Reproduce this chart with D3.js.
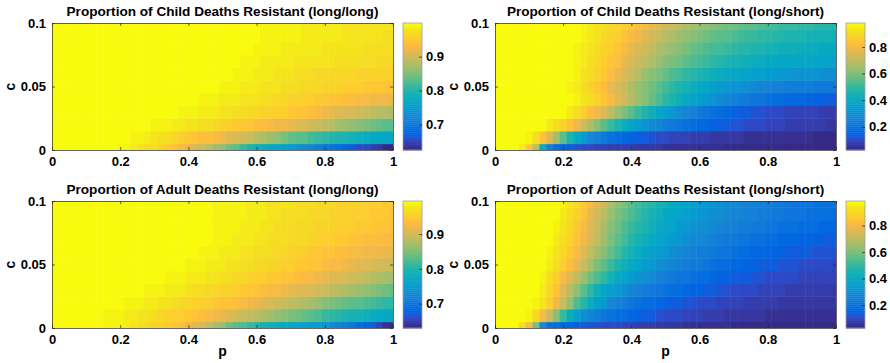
<!DOCTYPE html>
<html lang="en">
<head>
<meta charset="utf-8">
<title>Proportion of deaths resistant</title>
<script src="https://cdn.jsdelivr.net/npm/d3@7"></script>
<style>
  body { margin: 0; background: #fff; }
  svg text { font-family: "Liberation Sans", Arial, Helvetica, sans-serif; font-weight: bold; fill: #000; }
  .axis path, .axis line { stroke: #262626; stroke-width: 0.7; }
  .cbar .axis path { stroke: none; }
</style>
</head>
<body>
<div id="chart"></div>
<script>
// sweep grid: p along x, c along y
var pGrid = [0, 0.02, 0.04, 0.06, 0.08, 0.1, 0.12, 0.14, 0.16, 0.18, 0.2, 0.22, 0.24, 0.26, 0.28, 0.3, 0.32, 0.34, 0.36, 0.38, 0.4,
             0.42, 0.44, 0.46, 0.48, 0.5, 0.52, 0.54, 0.56, 0.58, 0.6, 0.62, 0.64, 0.66, 0.68, 0.7, 0.72, 0.74, 0.76, 0.78, 0.8,
             0.82, 0.84, 0.86, 0.88, 0.9, 0.92, 0.94, 0.96, 0.98, 1];
var cGrid = [0, 0.01, 0.02, 0.03, 0.04, 0.05, 0.06, 0.07, 0.08, 0.09, 0.1];

var pTicks = [0, 0.2, 0.4, 0.6, 0.8, 1];
var cTicks = [0, 0.05, 0.1];
var colorTicksLongLong = [0.7, 0.8, 0.9];
var colorTicksLongShort = [0.2, 0.4, 0.6, 0.8];

// values in percent, one row per c (c = 0 first), one entry per p
var childLongLong = [
  [99.9,99.9,99.9,99.9,99.9,99.9,99.9,99.9,99.9,99.6,99.3,99,98.5,98,97.5,97,96,95,94.5,93,92,91,89.5,88.5,87,86,84.5,83,81.5,80,78.5,78,77,76.5,75.5,75,74,73,72,71,70,69.5,68.5,68,67,66,65.5,64.5,64,63,62.5],
  [99.9,99.9,99.9,99.9,99.9,99.9,99.9,99.9,99.9,99.9,99.7,99.5,99.2,99,98.5,98,97.5,97,96.5,95.5,95,94.5,94,93.5,93,92.5,91.5,91,90,89.5,88.5,88,87,86,85,84,83.5,83,82,81.5,81,80.5,80,79.5,79,78.5,78,77.5,77,77,76.5],
  [99.9,99.9,99.9,99.9,99.9,99.9,99.9,99.9,99.9,99.9,99.9,99.9,99.9,99.7,99.5,99.3,99,98.8,98.5,98.2,98,97.6,97.3,97,96.5,96,95.6,95.2,94.8,94.4,94,93.6,93.2,92.8,92.4,92,91.4,90.8,90.2,89.6,89,88.3,87.6,86.9,86.2,85.5,84.9,84.3,83.8,83.4,83],
  [99.9,99.9,99.9,99.9,99.9,99.9,99.9,99.9,99.9,99.9,99.9,99.9,99.9,99.9,99.9,99.9,99.9,99.7,99.5,99.3,99.1,98.9,98.7,98.5,98.2,98,97.7,97.4,97.1,96.8,96.5,96.2,95.9,95.6,95.3,95,94.6,94.2,93.8,93.4,92.6,92.1,91.6,91.1,90.6,90.1,89.6,89.1,88.7,88.3,88],
  [99.9,99.9,99.9,99.9,99.9,99.9,99.9,99.9,99.9,99.9,99.9,99.9,99.9,99.9,99.9,99.9,99.9,99.9,99.9,99.9,99.7,99.5,99.3,99.1,98.9,98.7,98.5,98.3,98.1,97.9,97.7,97.4,97.1,96.8,96.5,96.2,95.9,95.6,95.3,95,94.7,94.4,94.1,93.8,93.5,93.2,93,92.8,92.6,92.4,92.2],
  [99.9,99.9,99.9,99.9,99.9,99.9,99.9,99.9,99.9,99.9,99.9,99.9,99.9,99.9,99.9,99.9,99.9,99.9,99.9,99.9,99.9,99.9,99.9,99.7,99.5,99.3,99.1,98.9,98.7,98.5,98.3,98.1,97.9,97.7,97.5,97.3,97.1,96.9,96.7,96.5,96.3,96.1,95.9,95.7,95.5,95.3,95.1,94.9,94.7,94.5,94.3],
  [99.9,99.9,99.9,99.9,99.9,99.9,99.9,99.9,99.9,99.9,99.9,99.9,99.9,99.9,99.9,99.9,99.9,99.9,99.9,99.9,99.9,99.9,99.9,99.9,99.9,99.7,99.5,99.3,99.1,98.9,98.7,98.5,98.3,98.1,97.9,97.7,97.5,97.3,97.1,96.9,96.8,96.7,96.6,96.5,96.4,96.3,96.2,96.1,96,95.9,95.8],
  [99.9,99.9,99.9,99.9,99.9,99.9,99.9,99.9,99.9,99.9,99.9,99.9,99.9,99.9,99.9,99.9,99.9,99.9,99.9,99.9,99.9,99.9,99.9,99.9,99.9,99.9,99.7,99.5,99.3,99.1,98.9,98.7,98.5,98.4,98.3,98.2,98.1,98,97.9,97.8,97.7,97.6,97.5,97.4,97.3,97.2,97.1,97,96.9,96.8,96.7],
  [99.9,99.9,99.9,99.9,99.9,99.9,99.9,99.9,99.9,99.9,99.9,99.9,99.9,99.9,99.9,99.9,99.9,99.9,99.9,99.9,99.9,99.9,99.9,99.9,99.9,99.9,99.8,99.7,99.6,99.4,99.2,99,98.9,98.8,98.7,98.6,98.5,98.4,98.3,98.2,98.1,98,97.9,97.8,97.7,97.6,97.5,97.4,97.3,97.2,97.1],
  [99.9,99.9,99.9,99.9,99.9,99.9,99.9,99.9,99.9,99.9,99.9,99.9,99.9,99.9,99.9,99.9,99.9,99.9,99.9,99.9,99.9,99.9,99.9,99.9,99.9,99.9,99.8,99.7,99.6,99.5,99.4,99.3,99.2,99.1,99,98.9,98.8,98.7,98.6,98.5,98.4,98.3,98.2,98.1,98,97.9,97.8,97.7,97.6,97.5,97.4],
  [99.9,99.9,99.9,99.9,99.9,99.9,99.9,99.9,99.9,99.9,99.9,99.9,99.9,99.9,99.9,99.9,99.9,99.9,99.9,99.9,99.9,99.9,99.9,99.9,99.9,99.9,99.8,99.7,99.6,99.5,99.4,99.3,99.2,99.1,99,98.9,98.8,98.7,98.6,98.5,98.4,98.3,98.2,98.1,98.1,98,97.9,97.8,97.8,97.7,97.6]
];

var childLongShort = [
  [98,98,98,98,94,85,70,42,24,18,15,13,12,11,10,9.3,8.7,8.2,7.7,7.3,7,6.6,6.3,6,5.7,5.4,5.2,5,4.8,4.6,4.4,4.2,4.1,4,3.9,3.8,3.7,3.6,3.5,3.4,3.3,3.2,3.1,3,2.9,2.9,2.8,2.7,2.7,2.6,2.5],
  [98,98,98,98,98,96,91,84,76,66,56,47,40,34,29,25,22,20,18,16.5,15,14,13,12,11.2,10.5,9.8,9.2,8.6,8.1,7.6,7.2,6.8,6.4,6.1,5.8,5.5,5.3,5.1,4.9,4.7,4.5,4.4,4.3,4.2,4.1,4,3.9,3.8,3.7,3.6],
  [98,98,98,98,98,98,98,97,95,92,88,84,79,74,68,62,56,51,46,42,38,34.5,31.5,29,26.5,24.5,22.5,21,19.5,18,17,16,15,14,13.2,12.5,11.8,11.2,10.6,10.1,9.6,9.2,8.8,8.4,8.1,7.8,7.5,7.2,7,6.8,6.6],
  [98,98,98,98,98,98,98,98,98,98,97,94.5,91,87,83,79,75,70,65,60,55.5,51,47,43,39.5,36,33,30,27.5,25,23,21,19.3,17.8,16.5,15.3,14.3,13.4,12.6,11.9,11.3,10.8,10.3,9.9,9.5,9.2,8.9,8.6,8.4,8.2,8],
  [98,98,98,98,98,98,98,98,98,98,98,97,95.5,93.5,91,88,84.5,81,77,73,69,65,61,57,53.5,50,46.5,43.5,40.5,38,35.5,33,31,29,27.3,25.7,24.2,22.9,21.7,20.6,19.6,18.8,18,17.3,16.7,16.1,15.6,15.1,14.7,14.3,14],
  [98,98,98,98,98,98,98,98,98,98,98,96.5,94.5,92,89,85.7,82.2,78.6,75,71.4,67.9,64.5,61.2,58,55,52.1,49.4,46.9,44.6,42.4,40.4,38.5,36.8,35.2,33.7,32.3,31,29.8,28.7,27.7,26.8,26,25.3,24.7,24.2,23.8,23.5,23.2,23,22.8,22.6],
  [98,98,98,98,98,98,98,98,98,98,98,96.8,95.2,93.2,90.8,88,85,81.8,78.4,75,71.6,68.3,65.1,62.1,59.3,56.7,54.3,52.1,50.1,48.2,46.5,44.9,43.4,42,40.7,39.5,38.4,37.4,36.5,35.6,34.8,34.1,33.4,32.8,32.3,31.8,31.4,31,30.7,30.4,30.1],
  [98,98,98,98,98,98,98,98,98,98,98,97,95.7,94,92,89.7,87.2,84.5,81.6,78.6,75.6,72.6,69.7,67,64.4,62,59.8,57.8,55.9,54.1,52.4,50.8,49.3,47.9,46.6,45.4,44.3,43.3,42.4,41.6,40.9,40.3,39.8,39.4,39,38.7,38.4,38.2,38,37.8,37.6],
  [98,98,98,98,98,98,98,98,98,98,98,97.3,96.2,94.7,93,91,88.8,86.4,83.8,81,78.2,75.4,72.7,70.1,67.6,65.3,63.2,61.2,59.4,57.7,56.1,54.6,53.2,51.9,50.7,49.6,48.6,47.7,46.8,46,45.3,44.6,44,43.4,42.9,42.4,42,41.6,41.2,40.9,40.6],
  [98,98,98,98,98,98,98,98,98,98,98,97.6,96.8,95.5,94,92.3,90.5,88.5,86.2,84,81.5,79,76.5,74,71.5,69,67,65,63.2,61.5,60,58.6,57.3,56,54.8,53.7,52.7,51.7,50.8,50,49.2,48.5,47.8,47.2,46.6,46.1,45.6,45.1,44.7,44.3,43.9],
  [98,98,98,98,98,98,98,98,98,98,98,98,97.5,96.5,95,93.5,92,90.5,89,87,85,83,81,78.5,76,74,72,70,68,66.5,65,63.5,62,60.5,59,58,57,56,55,54,53,52.3,51.6,50.9,50.3,49.7,49.1,48.6,48.1,47.6,47.2]
];

var adultLongLong = [
  [99.5,99.5,99.5,99.5,99.5,99.5,99.5,99,98.8,98.6,98.4,98,97.5,97,96.5,96,95.3,94.7,94,93.3,92.5,91.5,90.5,89,87.5,86,84.5,83.5,82.5,81.5,80.5,79.5,78.5,78,77.5,77,76.5,76,75.5,75,74,73,72,71,70,69,68,67,65.5,64,63],
  [99.5,99.5,99.5,99.5,99.5,99.5,99.5,99.5,98.8,98.6,98.4,98.2,98,97.7,97.4,97,96.5,96,95.5,95,94.5,94,93.5,93,92.3,91.6,91,90.3,89.6,89,88.3,87.6,87,86.3,85.6,85,84.3,83.6,83,82.4,81.8,81.2,80.6,80,79.5,79,78.5,78,77.7,77.4,77],
  [99.5,99.5,99.5,99.5,99.5,99.5,99.5,99.5,99.5,99,99,98.8,98.6,98.4,98.2,98,97.7,97.4,97,96.6,96.2,95.8,95.4,95,94.6,94.2,93.8,93.3,92.8,92.3,91.8,91.2,90.6,90,89.4,88.8,88.2,87.6,87,86.4,85.8,85.2,84.6,84,83.5,83,82.5,82,81.6,81.2,80.8],
  [99.5,99.5,99.5,99.5,99.5,99.5,99.5,99.5,99.5,99,99,99,99,99,98.8,98.6,98.4,98.2,98,97.8,97.5,97.2,96.9,96.6,96.3,96,95.6,95.2,94.8,94.4,94,93.6,93.2,92.8,92.4,92,91.5,91,90.5,90,89.5,89,88.5,88,87.4,86.8,86.2,85.6,85,84.4,83.8],
  [99.5,99.5,99.5,99.5,99.5,99.5,99.5,99.5,99.5,99,99,99,99,99,99,99,99,98.8,98.6,98.4,98.2,98,97.8,97.6,97.3,97,96.7,96.4,96.1,95.8,95.5,95.2,94.9,94.6,94.3,94,93.6,93.2,92.8,92.4,92,91.5,91,90.5,90,89.5,89,88.5,88,87.5,87],
  [99.5,99.5,99.5,99.5,99.5,99.5,99.5,99.5,99.5,99,99,99,99,99,99,99,99,99,99,99,98.8,98.6,98.4,98.2,98,97.8,97.6,97.4,97.1,96.8,96.5,96.2,95.9,95.6,95.3,95,94.7,94.4,94.1,93.8,93.5,93.1,92.7,92.3,91.9,91.5,91.1,90.7,90.3,89.9,89.5],
  [99.5,99.5,99.5,99.5,99.5,99.5,99.5,99.5,99.5,99,99,99,99,99,99,99,99,99,99,99,99,99,98.8,98.6,98.4,98.2,98,97.8,97.6,97.4,97.2,97,96.7,96.4,96.1,95.8,95.5,95.2,94.9,94.6,94.3,94,93.7,93.4,93.1,92.8,92.5,92.3,92.1,91.9,91.7],
  [99.5,99.5,99.5,99.5,99.5,99.5,99.5,99.5,99.5,99,99,99,99,99,99,99,99,99,99,99,99,99,99,99,98.8,98.6,98.4,98.2,98,97.8,97.6,97.4,97.2,97,96.8,96.6,96.4,96.2,96,95.7,95.4,95.1,94.8,94.5,94.2,93.9,93.7,93.5,93.3,93.1,92.9],
  [99.5,99.5,99.5,99.5,99.5,99.5,99.5,99.5,99.5,99,99,99,99,99,99,99,99,99,99,99,99,99,99,99,98.9,98.8,98.6,98.4,98.2,98,97.8,97.6,97.4,97.2,97,96.8,96.6,96.4,96.2,96,95.8,95.6,95.4,95.2,95,94.8,94.6,94.4,94.2,94,93.8],
  [99.5,99.5,99.5,99.5,99.5,99.5,99.5,99.5,99.5,99,99,99,99,99,99,99,99,99,99,99,99,99,99,99,98.9,98.8,98.7,98.6,98.4,98.2,98,97.8,97.6,97.4,97.2,97.1,97,96.8,96.6,96.4,96.2,96,95.8,95.6,95.4,95.2,95,94.8,94.6,94.4,94.2],
  [99.5,99.5,99.5,99.5,99.5,99.5,99.5,99.5,99.5,99,99,99,99,99,99,99,99,99,99,99,99,99,99,99,98.9,98.8,98.7,98.6,98.5,98.3,98.1,97.9,97.7,97.5,97.4,97.3,97.1,96.9,96.7,96.5,96.3,96.1,96,95.9,95.8,95.7,95.5,95.3,95.1,94.9,94.7]
];

var adultLongShort = [
  [98.6,98.6,98.6,98.6,92,82,60,30,20,18,16.5,15.5,14.5,13.7,13,12.3,11.6,10.9,10.2,9.6,9,8.5,8,7.5,7,6.6,6.2,5.9,5.6,5.3,5,4.8,4.6,4.4,4.2,4,3.9,3.8,3.7,3.6,3.5,3.4,3.3,3.2,3.1,3,2.95,2.9,2.8,2.7,2.6],
  [98.6,98.6,98.6,98.6,98.6,96,90,82,72,62,52,43,36,31,27,24,22,20.5,19,17.7,16.5,15.3,14.2,13.2,12.3,11.5,10.8,10.2,9.6,9.1,8.6,8.2,7.8,7.4,7.1,6.8,6.5,6.2,6,5.8,5.6,5.4,5.2,5,4.9,4.8,4.7,4.6,4.5,4.4,4.3],
  [98.6,98.6,98.6,98.6,98.6,98.6,97,93,87,80,72,63,55,48,42,37,33,29.5,26.5,24,22,20.5,19,17.7,16.5,15.4,14.4,13.5,12.7,12,11.4,10.8,10.3,9.8,9.4,9,8.6,8.3,8,7.7,7.4,7.2,7,6.8,6.6,6.4,6.3,6.2,6.1,6,5.9],
  [98.6,98.6,98.6,98.6,98.6,98.6,98.6,95,90,84,77,70,63,56,50,44.5,40,36,33,30.5,28,26,24.2,22.6,21.2,19.9,18.7,17.6,16.6,15.7,14.9,14.1,13.4,12.8,12.2,11.6,11.1,10.6,10.2,9.8,9.4,9.1,8.8,8.5,8.2,8,7.8,7.6,7.4,7.2,7],
  [98.6,98.6,98.6,98.6,98.6,98.6,98.6,96.5,92,87,82,76.5,71,65,59.5,54.5,50,45.5,41.5,38,35,32.5,30.2,28.2,26.4,24.8,23.3,22,20.8,19.7,18.7,17.7,16.8,16,15.2,14.5,13.8,13.2,12.6,12.1,11.6,11.2,10.8,10.4,10.1,9.8,9.5,9.2,9,8.8,8.6],
  [98.6,98.6,98.6,98.6,98.6,98.6,98.6,98.6,95,91.5,87.5,83,78,72,66,60.5,55.5,51,47,43.5,40.5,37.8,35.3,33,31,29.2,27.5,26,24.6,23.3,22.1,21,20,19,18.1,17.3,16.5,15.8,15.1,14.5,13.9,13.4,12.9,12.4,12,11.6,11.2,10.9,10.6,10.3,10],
  [98.6,98.6,98.6,98.6,98.6,98.6,98.6,98.6,96.5,93.5,90,86,81.5,76.5,71.5,66.5,61.5,57,52.5,48.5,45,42,39.3,36.8,34.6,32.6,30.8,29.1,27.6,26.2,24.9,23.7,22.6,21.6,20.6,19.7,18.9,18.1,17.4,16.7,16.1,15.5,15,14.5,14,13.6,13.2,12.8,12.5,12.2,11.9],
  [98.6,98.6,98.6,98.6,98.6,98.6,98.6,98.6,97.5,95.5,92.5,89,85,80.5,75.5,70.5,65.5,61,56.5,52.5,49,46,43.2,40.7,38.4,36.3,34.4,32.6,31,29.5,28.1,26.8,25.6,24.5,23.5,22.5,21.6,20.8,20,19.3,18.6,18,17.4,16.8,16.3,15.8,15.3,14.9,14.5,14.1,13.8],
  [98.6,98.6,98.6,98.6,98.6,98.6,98.6,98.6,98.6,96.5,94,90.5,86.5,82,77,72,67,62.5,58.5,55,51.8,48.8,46.1,43.6,41.3,39.2,37.3,35.5,33.9,32.4,31,29.7,28.5,27.4,26.4,25.4,24.5,23.7,22.9,22.2,21.5,20.9,20.3,19.7,19.2,18.7,18.2,17.8,17.4,17,16.6],
  [98.6,98.6,98.6,98.6,98.6,98.6,98.6,98.6,98.6,97.3,95.2,92.3,88.5,84,79,74,69.5,65,61,57.3,54,51,48.3,45.8,43.5,41.4,39.5,37.7,36.1,34.6,33.2,31.9,30.7,29.6,28.6,27.7,26.8,26,25.2,24.5,23.8,23.2,22.6,22,21.5,21,20.5,20.1,19.7,19.3,18.9],
  [98.6,98.6,98.6,98.6,98.6,98.6,98.6,98.6,98.6,97.8,96.2,93.8,90.5,86.3,81.5,76.5,71.8,67.4,63.3,59.6,56.2,53.1,50.3,47.7,45.3,43.1,41.1,39.3,37.6,36,34.5,33.1,31.8,30.6,29.5,28.5,27.6,26.7,25.9,25.1,24.4,23.7,23.1,22.5,21.9,21.4,20.9,20.4,20,19.6,19.2]
];

// MATLAB parula, 64 entries
var parula64 = [
  [0.2081,0.1663,0.5292],[0.2116,0.1898,0.5777],[0.2123,0.2138,0.6270],[0.2081,0.2386,0.6771],
  [0.1959,0.2645,0.7279],[0.1707,0.2919,0.7792],[0.1253,0.3242,0.8303],[0.0591,0.3598,0.8683],
  [0.0117,0.3875,0.8820],[0.0060,0.4086,0.8828],[0.0165,0.4266,0.8786],[0.0329,0.4430,0.8720],
  [0.0498,0.4586,0.8641],[0.0629,0.4737,0.8554],[0.0723,0.4887,0.8467],[0.0779,0.5040,0.8384],
  [0.0793,0.5200,0.8312],[0.0749,0.5375,0.8263],[0.0641,0.5570,0.8240],[0.0488,0.5772,0.8228],
  [0.0343,0.5966,0.8199],[0.0265,0.6137,0.8135],[0.0239,0.6287,0.8038],[0.0231,0.6418,0.7913],
  [0.0228,0.6535,0.7768],[0.0267,0.6642,0.7607],[0.0384,0.6743,0.7436],[0.0590,0.6838,0.7254],
  [0.0843,0.6928,0.7062],[0.1133,0.7015,0.6859],[0.1453,0.7098,0.6646],[0.1801,0.7177,0.6424],
  [0.2178,0.7250,0.6193],[0.2586,0.7317,0.5954],[0.3022,0.7376,0.5712],[0.3482,0.7424,0.5473],
  [0.3953,0.7459,0.5244],[0.4420,0.7481,0.5033],[0.4871,0.7491,0.4840],[0.5300,0.7491,0.4661],
  [0.5709,0.7485,0.4494],[0.6099,0.7473,0.4337],[0.6473,0.7456,0.4188],[0.6834,0.7435,0.4044],
  [0.7184,0.7411,0.3905],[0.7525,0.7384,0.3768],[0.7858,0.7356,0.3633],[0.8185,0.7327,0.3498],
  [0.8507,0.7299,0.3360],[0.8824,0.7274,0.3217],[0.9139,0.7258,0.3063],[0.9450,0.7261,0.2886],
  [0.9739,0.7314,0.2666],[0.9938,0.7455,0.2403],[0.9990,0.7653,0.2164],[0.9955,0.7861,0.1967],
  [0.9880,0.8066,0.1794],[0.9789,0.8271,0.1633],[0.9697,0.8481,0.1475],[0.9626,0.8705,0.1309],
  [0.9589,0.8949,0.1132],[0.9598,0.9218,0.0948],[0.9661,0.9514,0.0755],[0.9763,0.9831,0.0538]
].map(c => d3.rgb(c[0] * 255, c[1] * 255, c[2] * 255).formatHex());

var panels = [
  {title: "Proportion of Child Deaths Resistant (long/long)", data: childLongLong, cticks: colorTicksLongLong, left: 52, top: 23, xlabel: false},
  {title: "Proportion of Child Deaths Resistant (long/short)", data: childLongShort, cticks: colorTicksLongShort, left: 495, top: 23, xlabel: false},
  {title: "Proportion of Adult Deaths Resistant (long/long)", data: adultLongLong, cticks: colorTicksLongLong, left: 52, top: 201, xlabel: true},
  {title: "Proportion of Adult Deaths Resistant (long/short)", data: adultLongShort, cticks: colorTicksLongShort, left: 495, top: 201, xlabel: true}
];

var plotW = 341, plotH = 127, barW = 19, barGap = 10;

var svg = d3.select("#chart").append("svg")
  .attr("width", 890)
  .attr("height", 363);

var fmt = d3.format("~g");

panels.forEach(function(pn, k) {
  var g = svg.append("g").attr("transform", `translate(${pn.left},${pn.top})`);

  var x = d3.scaleLinear().domain([0, 1]).range([0, plotW]);
  var y = d3.scaleLinear().domain([0, 0.1]).range([plotH, 0]);

  // colour limits follow the data, mapped onto 64 discrete colours
  var ext = d3.extent(pn.data.flat()).map(v => v / 100);
  var color = d3.scaleQuantize().domain(ext).range(parula64);

  var cells = [];
  pn.data.forEach(function(row, j) {
    row.forEach(function(v, i) {
      cells.push({p: pGrid[i], c: cGrid[j], v: v / 100});
    });
  });

  g.append("clipPath").attr("id", "clip" + k)
    .append("rect").attr("width", plotW).attr("height", plotH);

  var dp = pGrid[1] - pGrid[0], dc = cGrid[1] - cGrid[0];
  g.append("g")
    .attr("clip-path", `url(#clip${k})`)
    .selectAll("rect")
    .data(cells)
    .join("rect")
    .attr("x", d => x(d.p - dp / 2))
    .attr("y", d => y(d.c + dc / 2))
    .attr("width", x(dp) - x(0) + 0.5)
    .attr("height", y(0) - y(dc) + 0.5)
    .attr("fill", d => color(d.v));

  // axes, ticks pointing inwards
  g.append("g").attr("class", "axis")
    .attr("transform", `translate(0,${plotH})`)
    .call(d3.axisBottom(x).tickValues(pTicks).tickSize(-3).tickSizeOuter(0).tickPadding(7).tickFormat(fmt))
    .call(a => a.selectAll("text").style("font-size", "13px"));
  g.append("g").attr("class", "axis")
    .call(d3.axisLeft(y).tickValues(cTicks).tickSize(-3).tickSizeOuter(0).tickPadding(6).tickFormat(fmt))
    .call(a => a.selectAll("text").style("font-size", "13px"));
  g.append("g").attr("class", "axis")
    .call(d3.axisTop(x).tickValues(pTicks).tickSize(-3).tickSizeOuter(0).tickFormat(""));
  g.append("g").attr("class", "axis")
    .attr("transform", `translate(${plotW},0)`)
    .call(d3.axisRight(y).tickValues(cTicks).tickSize(-3).tickSizeOuter(0).tickFormat(""));

  g.append("text")
    .attr("x", plotW / 2)
    .attr("y", -7)
    .attr("text-anchor", "middle")
    .style("font-size", "13.6px")
    .text(pn.title);

  g.append("text")
    .attr("transform", `translate(-37,${plotH / 2}) rotate(-90)`)
    .attr("text-anchor", "middle")
    .style("font-size", "14px")
    .text("c");

  if (pn.xlabel) {
    g.append("text")
      .attr("x", plotW / 2)
      .attr("y", plotH + 28)
      .attr("text-anchor", "middle")
      .style("font-size", "14px")
      .text("p");
  }

  // colorbar
  var cb = g.append("g").attr("class", "cbar").attr("transform", `translate(${plotW + barGap},0)`);
  var cy = d3.scaleLinear().domain(ext).range([plotH, 0]);
  cb.selectAll("rect.step")
    .data(parula64)
    .join("rect")
    .attr("class", "step")
    .attr("x", 0)
    .attr("width", barW)
    .attr("y", (c, i) => plotH - (i + 1) * plotH / parula64.length)
    .attr("height", plotH / parula64.length + 0.5)
    .attr("fill", c => c);
  cb.append("rect")
    .attr("width", barW)
    .attr("height", plotH)
    .attr("fill", "none")
    .attr("stroke", "#a0a0a0")
    .attr("stroke-width", 0.8);
  cb.append("g").attr("class", "axis")
    .attr("transform", `translate(${barW},0)`)
    .call(d3.axisRight(cy).tickValues(pn.cticks).tickSize(-3).tickSizeOuter(0).tickPadding(4).tickFormat(fmt))
    .call(a => a.selectAll("text").style("font-size", "13px"));
});
</script>
</body>
</html>
